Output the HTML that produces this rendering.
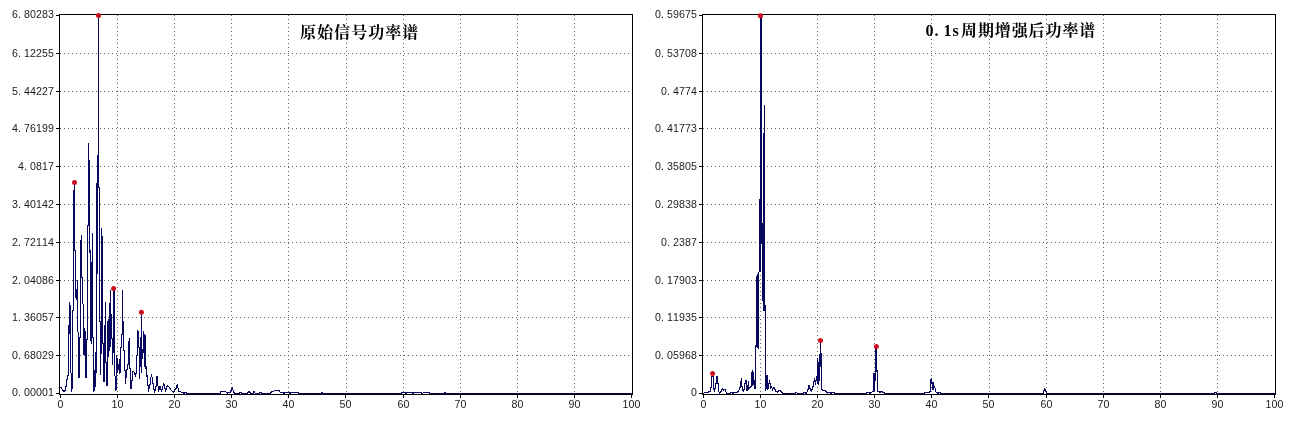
<!DOCTYPE html>
<html lang="zh"><head><meta charset="utf-8"><title>功率谱</title>
<style>
html,body{margin:0;padding:0;background:#fff;}
body{width:1297px;height:422px;overflow:hidden;}
svg{display:block;}
.lab{font-family:"Liberation Sans","Noto Sans CJK SC",sans-serif;font-size:10.6px;fill:#1c1c1c;}
.ttl{font-family:"Liberation Serif","Noto Serif CJK SC",serif;font-size:16px;font-weight:bold;fill:#000;letter-spacing:1.05px;}
.w{fill:#08085f;}
</style></head><body>
<svg width="1297" height="422" viewBox="0 0 1297 422" shape-rendering="crispEdges">
<rect x="0" y="0" width="1297" height="422" fill="#fff"/>
<line x1="117.5" y1="15" x2="117.5" y2="394" stroke="#626262" stroke-width="1" stroke-dasharray="1 3"/>
<line x1="174.5" y1="15" x2="174.5" y2="394" stroke="#626262" stroke-width="1" stroke-dasharray="1 3"/>
<line x1="231.5" y1="15" x2="231.5" y2="394" stroke="#626262" stroke-width="1" stroke-dasharray="1 3"/>
<line x1="288.5" y1="15" x2="288.5" y2="394" stroke="#626262" stroke-width="1" stroke-dasharray="1 3"/>
<line x1="346.5" y1="15" x2="346.5" y2="394" stroke="#626262" stroke-width="1" stroke-dasharray="1 3"/>
<line x1="403.5" y1="15" x2="403.5" y2="394" stroke="#626262" stroke-width="1" stroke-dasharray="1 3"/>
<line x1="460.5" y1="15" x2="460.5" y2="394" stroke="#626262" stroke-width="1" stroke-dasharray="1 3"/>
<line x1="517.5" y1="15" x2="517.5" y2="394" stroke="#626262" stroke-width="1" stroke-dasharray="1 3"/>
<line x1="574.5" y1="15" x2="574.5" y2="394" stroke="#626262" stroke-width="1" stroke-dasharray="1 3"/>
<line x1="60" y1="53.5" x2="632" y2="53.5" stroke="#626262" stroke-width="1" stroke-dasharray="1 3"/>
<line x1="60" y1="91.5" x2="632" y2="91.5" stroke="#626262" stroke-width="1" stroke-dasharray="1 3"/>
<line x1="60" y1="128.5" x2="632" y2="128.5" stroke="#626262" stroke-width="1" stroke-dasharray="1 3"/>
<line x1="60" y1="166.5" x2="632" y2="166.5" stroke="#626262" stroke-width="1" stroke-dasharray="1 3"/>
<line x1="60" y1="204.5" x2="632" y2="204.5" stroke="#626262" stroke-width="1" stroke-dasharray="1 3"/>
<line x1="60" y1="242.5" x2="632" y2="242.5" stroke="#626262" stroke-width="1" stroke-dasharray="1 3"/>
<line x1="60" y1="280.5" x2="632" y2="280.5" stroke="#626262" stroke-width="1" stroke-dasharray="1 3"/>
<line x1="60" y1="317.5" x2="632" y2="317.5" stroke="#626262" stroke-width="1" stroke-dasharray="1 3"/>
<line x1="60" y1="355.5" x2="632" y2="355.5" stroke="#626262" stroke-width="1" stroke-dasharray="1 3"/>
<path class="w" d="M60 387h1v1h-1zM61 387h1v2h-1zM62 389h1v2h-1zM63 390h1v2h-1zM64 390h1v2h-1zM65 386h1v5h-1zM66 379h1v8h-1zM67 375h1v5h-1zM68 325h1v51h-1zM69 302h1v32h-1zM70 305h1v68h-1zM71 373h1v19h-1zM72 310h1v79h-1zM73 190h1v121h-1zM74 182h1v69h-1zM75 250h1v48h-1zM76 289h1v11h-1zM77 280h1v52h-1zM78 332h1v46h-1zM79 337h1v41h-1zM80 240h1v98h-1zM81 235h1v43h-1zM82 277h1v27h-1zM83 304h1v51h-1zM84 328h1v27h-1zM85 331h1v47h-1zM86 339h1v39h-1zM87 225h1v115h-1zM88 143h1v83h-1zM89 160h1v93h-1zM90 250h1v91h-1zM91 262h1v82h-1zM92 233h1v105h-1zM93 337h1v55h-1zM94 370h1v21h-1zM95 352h1v35h-1zM96 183h1v190h-1zM97 155h1v119h-1zM98 15h1v173h-1zM99 187h1v135h-1zM100 321h1v54h-1zM101 228h1v126h-1zM102 236h1v108h-1zM103 343h1v39h-1zM104 325h1v57h-1zM105 302h1v61h-1zM106 362h1v24h-1zM107 321h1v65h-1zM108 319h1v38h-1zM109 303h1v48h-1zM110 290h1v57h-1zM111 314h1v25h-1zM112 338h1v27h-1zM113 288h1v65h-1zM114 289h1v87h-1zM115 376h1v15h-1zM116 355h1v35h-1zM117 358h1v15h-1zM118 364h1v6h-1zM119 359h1v15h-1zM120 347h1v26h-1zM121 334h1v14h-1zM122 290h1v45h-1zM123 321h1v30h-1zM124 350h1v21h-1zM125 370h1v14h-1zM126 369h1v9h-1zM127 364h1v6h-1zM128 341h1v24h-1zM129 338h1v31h-1zM130 368h1v21h-1zM131 380h1v9h-1zM132 371h1v10h-1zM133 371h1v1h-1zM134 372h1v3h-1zM135 373h1v4h-1zM136 355h1v19h-1zM137 330h1v26h-1zM138 331h1v17h-1zM139 347h1v32h-1zM140 337h1v30h-1zM141 312h1v61h-1zM142 349h1v10h-1zM143 331h1v22h-1zM144 334h1v33h-1zM145 335h1v34h-1zM146 366h1v11h-1zM147 375h1v11h-1zM148 385h1v7h-1zM149 384h1v5h-1zM150 377h1v8h-1zM151 374h1v3h-1zM152 377h1v7h-1zM153 383h1v7h-1zM154 389h1v4h-1zM155 386h1v5h-1zM156 376h1v11h-1zM157 376h1v10h-1zM158 386h1v6h-1zM159 386h1v4h-1zM160 386h1v4h-1zM161 389h1v3h-1zM162 386h1v4h-1zM163 383h1v3h-1zM164 384h1v5h-1zM165 388h1v4h-1zM166 386h1v4h-1zM167 385h1v2h-1zM168 386h1v1h-1zM169 387h1v2h-1zM170 388h1v2h-1zM171 390h1v1h-1zM172 391h1v1h-1zM173 391h1v2h-1zM174 389h1v3h-1zM175 388h1v2h-1zM176 385h1v4h-1zM177 384h1v4h-1zM178 388h1v4h-1zM179 391h1v1h-1zM180 391h1v1h-1zM181 392h1v1h-1zM182 392h1v1h-1zM183 392h1v2h-1zM184 392h1v2h-1zM185 392h1v1h-1zM186 392h1v2h-1zM187 393h1v1h-1zM188 393h1v1h-1zM189 393h1v1h-1zM190 393h1v1h-1zM191 393h1v1h-1zM192 393h1v1h-1zM193 393h1v1h-1zM194 393h1v1h-1zM195 393h1v1h-1zM196 393h1v1h-1zM197 393h1v1h-1zM198 393h1v1h-1zM199 393h1v1h-1zM200 393h1v1h-1zM201 393h1v1h-1zM202 393h1v1h-1zM203 393h1v1h-1zM204 393h1v1h-1zM205 393h1v1h-1zM206 393h1v1h-1zM207 393h1v1h-1zM208 393h1v1h-1zM209 393h1v1h-1zM210 393h1v1h-1zM211 393h1v1h-1zM212 393h1v1h-1zM213 393h1v1h-1zM214 393h1v1h-1zM215 393h1v1h-1zM216 393h1v1h-1zM217 393h1v1h-1zM218 393h1v1h-1zM219 393h1v1h-1zM220 391h1v3h-1zM221 391h1v1h-1zM222 391h1v1h-1zM223 391h1v1h-1zM224 391h1v1h-1zM225 391h1v1h-1zM226 392h1v1h-1zM227 392h1v2h-1zM228 392h1v1h-1zM229 392h1v1h-1zM230 390h1v3h-1zM231 388h1v3h-1zM232 387h1v3h-1zM233 390h1v3h-1zM234 392h1v2h-1zM235 393h1v1h-1zM236 393h1v1h-1zM237 393h1v1h-1zM238 393h1v1h-1zM239 392h1v2h-1zM240 392h1v1h-1zM241 392h1v2h-1zM242 393h1v1h-1zM243 393h1v1h-1zM244 393h1v1h-1zM245 393h1v1h-1zM246 393h1v1h-1zM247 392h1v2h-1zM248 391h1v2h-1zM249 391h1v2h-1zM250 392h1v2h-1zM251 393h1v1h-1zM252 393h1v1h-1zM253 391h1v3h-1zM254 391h1v2h-1zM255 393h1v1h-1zM256 393h1v1h-1zM257 393h1v1h-1zM258 393h1v1h-1zM259 392h1v2h-1zM260 392h1v1h-1zM261 392h1v2h-1zM262 393h1v1h-1zM263 393h1v1h-1zM264 393h1v1h-1zM265 393h1v1h-1zM266 393h1v1h-1zM267 393h1v1h-1zM268 393h1v1h-1zM269 393h1v1h-1zM270 392h1v2h-1zM271 391h1v2h-1zM272 391h1v1h-1zM273 391h1v1h-1zM274 390h1v1h-1zM275 390h1v1h-1zM276 390h1v1h-1zM277 390h1v1h-1zM278 390h1v1h-1zM279 390h1v2h-1zM280 392h1v1h-1zM281 392h1v1h-1zM282 392h1v1h-1zM283 392h1v2h-1zM284 392h1v2h-1zM285 392h1v1h-1zM286 392h1v1h-1zM287 392h1v1h-1zM288 392h1v1h-1zM289 392h1v2h-1zM290 392h1v2h-1zM291 392h1v1h-1zM292 392h1v1h-1zM293 392h1v1h-1zM294 392h1v1h-1zM295 392h1v1h-1zM296 392h1v1h-1zM297 392h1v1h-1zM298 392h1v2h-1zM299 393h1v1h-1zM300 393h1v1h-1zM301 393h1v1h-1zM302 393h1v1h-1zM303 393h1v1h-1zM304 393h1v1h-1zM305 393h1v1h-1zM306 393h1v1h-1zM307 393h1v1h-1zM308 393h1v1h-1zM309 393h1v1h-1zM310 393h1v1h-1zM311 393h1v1h-1zM312 393h1v1h-1zM313 393h1v1h-1zM314 393h1v1h-1zM315 393h1v1h-1zM316 393h1v1h-1zM317 393h1v1h-1zM318 393h1v1h-1zM319 393h1v1h-1zM320 393h1v1h-1zM321 392h1v2h-1zM322 392h1v2h-1zM323 393h1v1h-1zM324 393h1v1h-1zM325 393h1v1h-1zM326 393h1v1h-1zM327 393h1v1h-1zM328 393h1v1h-1zM329 393h1v1h-1zM330 393h1v1h-1zM331 393h1v1h-1zM332 393h1v1h-1zM333 393h1v1h-1zM334 393h1v1h-1zM335 393h1v1h-1zM336 393h1v1h-1zM337 393h1v1h-1zM338 393h1v1h-1zM339 393h1v1h-1zM340 393h1v1h-1zM341 393h1v1h-1zM342 393h1v1h-1zM343 393h1v1h-1zM344 393h1v1h-1zM345 393h1v1h-1zM346 393h1v1h-1zM347 393h1v1h-1zM348 393h1v1h-1zM349 393h1v1h-1zM350 393h1v1h-1zM351 393h1v1h-1zM352 393h1v1h-1zM353 393h1v1h-1zM354 393h1v1h-1zM355 393h1v1h-1zM356 393h1v1h-1zM357 393h1v1h-1zM358 393h1v1h-1zM359 393h1v1h-1zM360 393h1v1h-1zM361 393h1v1h-1zM362 393h1v1h-1zM363 393h1v1h-1zM364 393h1v1h-1zM365 393h1v1h-1zM366 393h1v1h-1zM367 393h1v1h-1zM368 393h1v1h-1zM369 393h1v1h-1zM370 393h1v1h-1zM371 393h1v1h-1zM372 393h1v1h-1zM373 393h1v1h-1zM374 393h1v1h-1zM375 393h1v1h-1zM376 393h1v1h-1zM377 393h1v1h-1zM378 393h1v1h-1zM379 393h1v1h-1zM380 393h1v1h-1zM381 393h1v1h-1zM382 393h1v1h-1zM383 393h1v1h-1zM384 393h1v1h-1zM385 393h1v1h-1zM386 393h1v1h-1zM387 393h1v1h-1zM388 393h1v1h-1zM389 393h1v1h-1zM390 393h1v1h-1zM391 393h1v1h-1zM392 393h1v1h-1zM393 393h1v1h-1zM394 393h1v1h-1zM395 393h1v1h-1zM396 393h1v1h-1zM397 393h1v1h-1zM398 393h1v1h-1zM399 393h1v1h-1zM400 393h1v1h-1zM401 392h1v2h-1zM402 392h1v1h-1zM403 392h1v1h-1zM404 392h1v1h-1zM405 392h1v2h-1zM406 392h1v2h-1zM407 392h1v1h-1zM408 392h1v1h-1zM409 392h1v1h-1zM410 392h1v1h-1zM411 392h1v1h-1zM412 392h1v2h-1zM413 392h1v2h-1zM414 392h1v1h-1zM415 392h1v1h-1zM416 392h1v1h-1zM417 392h1v1h-1zM418 392h1v1h-1zM419 392h1v1h-1zM420 392h1v1h-1zM421 392h1v2h-1zM422 393h1v1h-1zM423 392h1v1h-1zM424 392h1v1h-1zM425 392h1v1h-1zM426 392h1v1h-1zM427 392h1v1h-1zM428 392h1v1h-1zM429 392h1v2h-1zM430 393h1v1h-1zM431 393h1v1h-1zM432 393h1v1h-1zM433 393h1v1h-1zM434 393h1v1h-1zM435 393h1v1h-1zM436 393h1v1h-1zM437 393h1v1h-1zM438 393h1v1h-1zM439 393h1v1h-1zM440 393h1v1h-1zM441 393h1v1h-1zM442 393h1v1h-1zM443 393h1v1h-1zM444 392h1v2h-1zM445 392h1v2h-1zM446 393h1v1h-1zM447 393h1v1h-1zM448 393h1v1h-1zM449 393h1v1h-1zM450 393h1v1h-1zM451 393h1v1h-1zM452 393h1v1h-1zM453 393h1v1h-1zM454 393h1v1h-1zM455 393h1v1h-1zM456 393h1v1h-1zM457 393h1v1h-1zM458 393h1v1h-1zM459 393h1v1h-1zM460 393h1v1h-1zM461 393h1v1h-1zM462 393h1v1h-1zM463 393h1v1h-1zM464 393h1v1h-1zM465 393h1v1h-1zM466 393h1v1h-1zM467 393h1v1h-1zM468 393h1v1h-1zM469 393h1v1h-1zM470 393h1v1h-1zM471 393h1v1h-1zM472 393h1v1h-1zM473 393h1v1h-1zM474 393h1v1h-1zM475 393h1v1h-1zM476 393h1v1h-1zM477 393h1v1h-1zM478 393h1v1h-1zM479 393h1v1h-1zM480 393h1v1h-1zM481 393h1v1h-1zM482 393h1v1h-1zM483 393h1v1h-1zM484 393h1v1h-1zM485 393h1v1h-1zM486 393h1v1h-1zM487 393h1v1h-1zM488 393h1v1h-1zM489 393h1v1h-1zM490 393h1v1h-1zM491 393h1v1h-1zM492 393h1v1h-1zM493 393h1v1h-1zM494 393h1v1h-1zM495 393h1v1h-1zM496 393h1v1h-1zM497 393h1v1h-1zM498 393h1v1h-1zM499 393h1v1h-1zM500 393h1v1h-1zM501 393h1v1h-1zM502 393h1v1h-1zM503 393h1v1h-1zM504 393h1v1h-1zM505 393h1v1h-1zM506 393h1v1h-1zM507 393h1v1h-1zM508 393h1v1h-1zM509 393h1v1h-1zM510 393h1v1h-1zM511 393h1v1h-1zM512 393h1v1h-1zM513 393h1v1h-1zM514 393h1v1h-1zM515 393h1v1h-1zM516 393h1v1h-1zM517 393h1v1h-1zM518 393h1v1h-1zM519 393h1v1h-1zM520 393h1v1h-1zM521 393h1v1h-1zM522 393h1v1h-1zM523 393h1v1h-1zM524 393h1v1h-1zM525 393h1v1h-1zM526 393h1v1h-1zM527 393h1v1h-1zM528 393h1v1h-1zM529 393h1v1h-1zM530 393h1v1h-1zM531 393h1v1h-1zM532 393h1v1h-1zM533 393h1v1h-1zM534 393h1v1h-1zM535 393h1v1h-1zM536 393h1v1h-1zM537 393h1v1h-1zM538 393h1v1h-1zM539 393h1v1h-1zM540 393h1v1h-1zM541 393h1v1h-1zM542 393h1v1h-1zM543 393h1v1h-1zM544 393h1v1h-1zM545 393h1v1h-1zM546 393h1v1h-1zM547 393h1v1h-1zM548 393h1v1h-1zM549 393h1v1h-1zM550 393h1v1h-1zM551 393h1v1h-1zM552 393h1v1h-1zM553 393h1v1h-1zM554 393h1v1h-1zM555 393h1v1h-1zM556 393h1v1h-1zM557 393h1v1h-1zM558 393h1v1h-1zM559 393h1v1h-1zM560 393h1v1h-1zM561 393h1v1h-1zM562 393h1v1h-1zM563 393h1v1h-1zM564 393h1v1h-1zM565 393h1v1h-1zM566 393h1v1h-1zM567 393h1v1h-1zM568 393h1v1h-1zM569 393h1v1h-1zM570 393h1v1h-1zM571 393h1v1h-1zM572 393h1v1h-1zM573 393h1v1h-1zM574 393h1v1h-1zM575 393h1v1h-1zM576 393h1v1h-1zM577 393h1v1h-1zM578 393h1v1h-1zM579 393h1v1h-1zM580 393h1v1h-1zM581 393h1v1h-1zM582 393h1v1h-1zM583 393h1v1h-1zM584 393h1v1h-1zM585 393h1v1h-1zM586 393h1v1h-1zM587 393h1v1h-1zM588 393h1v1h-1zM589 393h1v1h-1zM590 393h1v1h-1zM591 393h1v1h-1zM592 393h1v1h-1zM593 393h1v1h-1zM594 393h1v1h-1zM595 393h1v1h-1zM596 393h1v1h-1zM597 393h1v1h-1zM598 393h1v1h-1zM599 393h1v1h-1zM600 393h1v1h-1zM601 393h1v1h-1zM602 393h1v1h-1zM603 393h1v1h-1zM604 393h1v1h-1zM605 393h1v1h-1zM606 393h1v1h-1zM607 393h1v1h-1zM608 393h1v1h-1zM609 393h1v1h-1zM610 393h1v1h-1zM611 393h1v1h-1zM612 393h1v1h-1zM613 393h1v1h-1zM614 393h1v1h-1zM615 393h1v1h-1zM616 393h1v1h-1zM617 393h1v1h-1zM618 393h1v1h-1zM619 393h1v1h-1zM620 393h1v1h-1zM621 393h1v1h-1zM622 393h1v1h-1zM623 393h1v1h-1zM624 393h1v1h-1zM625 393h1v1h-1zM626 393h1v1h-1zM627 393h1v1h-1zM628 393h1v1h-1zM629 393h1v1h-1zM630 393h1v1h-1zM631 393h1v1h-1z"/>
<rect x="59.5" y="14.5" width="573" height="380" fill="none" stroke="#000" stroke-width="1"/>
<rect x="56" y="15" width="3" height="1" fill="#000"/>
<text class="lab" x="12 18 24 30 36 42 48" y="18.0">6.80283</text>
<rect x="56" y="53" width="3" height="1" fill="#000"/>
<text class="lab" x="12 18 24 30 36 42 48" y="56.9">6.12255</text>
<rect x="56" y="91" width="3" height="1" fill="#000"/>
<text class="lab" x="12 18 24 30 36 42 48" y="94.9">5.44227</text>
<rect x="56" y="128" width="3" height="1" fill="#000"/>
<text class="lab" x="12 18 24 30 36 42 48" y="131.9">4.76199</text>
<rect x="56" y="166" width="3" height="1" fill="#000"/>
<text class="lab" x="18 24 30 36 42 48" y="169.9">4.0817</text>
<rect x="56" y="204" width="3" height="1" fill="#000"/>
<text class="lab" x="12 18 24 30 36 42 48" y="207.9">3.40142</text>
<rect x="56" y="242" width="3" height="1" fill="#000"/>
<text class="lab" x="12 18 24 30 36 42 48" y="245.9">2.72114</text>
<rect x="56" y="280" width="3" height="1" fill="#000"/>
<text class="lab" x="12 18 24 30 36 42 48" y="283.9">2.04086</text>
<rect x="56" y="317" width="3" height="1" fill="#000"/>
<text class="lab" x="12 18 24 30 36 42 48" y="320.9">1.36057</text>
<rect x="56" y="355" width="3" height="1" fill="#000"/>
<text class="lab" x="12 18 24 30 36 42 48" y="358.9">0.68029</text>
<rect x="56" y="393" width="3" height="1" fill="#000"/>
<text class="lab" x="12 18 24 30 36 42 48" y="396.0">0.00001</text>
<rect x="60" y="395" width="1" height="3" fill="#000"/>
<text class="lab" x="57.6" y="408">0</text>
<rect x="117" y="395" width="1" height="3" fill="#000"/>
<text class="lab" x="111.6 117.6" y="408">10</text>
<rect x="174" y="395" width="1" height="3" fill="#000"/>
<text class="lab" x="168.6 174.6" y="408">20</text>
<rect x="231" y="395" width="1" height="3" fill="#000"/>
<text class="lab" x="225.6 231.6" y="408">30</text>
<rect x="288" y="395" width="1" height="3" fill="#000"/>
<text class="lab" x="282.6 288.6" y="408">40</text>
<rect x="345" y="395" width="1" height="3" fill="#000"/>
<text class="lab" x="339.6 345.6" y="408">50</text>
<rect x="403" y="395" width="1" height="3" fill="#000"/>
<text class="lab" x="397.6 403.6" y="408">60</text>
<rect x="460" y="395" width="1" height="3" fill="#000"/>
<text class="lab" x="454.6 460.6" y="408">70</text>
<rect x="517" y="395" width="1" height="3" fill="#000"/>
<text class="lab" x="511.6 517.6" y="408">80</text>
<rect x="574" y="395" width="1" height="3" fill="#000"/>
<text class="lab" x="568.6 574.6" y="408">90</text>
<rect x="631" y="395" width="1" height="3" fill="#000"/>
<text class="lab" x="622.6 628.6 634.6" y="408">100</text>
<circle cx="74.5" cy="182.5" r="2.5" fill="#cc1020" shape-rendering="geometricPrecision"/>
<circle cx="98.5" cy="15.5" r="2.5" fill="#cc1020" shape-rendering="geometricPrecision"/>
<circle cx="113.6" cy="288.4" r="2.5" fill="#cc1020" shape-rendering="geometricPrecision"/>
<circle cx="141.4" cy="312.3" r="2.5" fill="#cc1020" shape-rendering="geometricPrecision"/>
<text class="ttl" x="300" y="38">原始信号功率谱</text>
<line x1="760.5" y1="15" x2="760.5" y2="394" stroke="#626262" stroke-width="1" stroke-dasharray="1 3"/>
<line x1="817.5" y1="15" x2="817.5" y2="394" stroke="#626262" stroke-width="1" stroke-dasharray="1 3"/>
<line x1="874.5" y1="15" x2="874.5" y2="394" stroke="#626262" stroke-width="1" stroke-dasharray="1 3"/>
<line x1="931.5" y1="15" x2="931.5" y2="394" stroke="#626262" stroke-width="1" stroke-dasharray="1 3"/>
<line x1="989.5" y1="15" x2="989.5" y2="394" stroke="#626262" stroke-width="1" stroke-dasharray="1 3"/>
<line x1="1046.5" y1="15" x2="1046.5" y2="394" stroke="#626262" stroke-width="1" stroke-dasharray="1 3"/>
<line x1="1103.5" y1="15" x2="1103.5" y2="394" stroke="#626262" stroke-width="1" stroke-dasharray="1 3"/>
<line x1="1160.5" y1="15" x2="1160.5" y2="394" stroke="#626262" stroke-width="1" stroke-dasharray="1 3"/>
<line x1="1217.5" y1="15" x2="1217.5" y2="394" stroke="#626262" stroke-width="1" stroke-dasharray="1 3"/>
<line x1="703" y1="53.5" x2="1275" y2="53.5" stroke="#626262" stroke-width="1" stroke-dasharray="1 3"/>
<line x1="703" y1="91.5" x2="1275" y2="91.5" stroke="#626262" stroke-width="1" stroke-dasharray="1 3"/>
<line x1="703" y1="128.5" x2="1275" y2="128.5" stroke="#626262" stroke-width="1" stroke-dasharray="1 3"/>
<line x1="703" y1="166.5" x2="1275" y2="166.5" stroke="#626262" stroke-width="1" stroke-dasharray="1 3"/>
<line x1="703" y1="204.5" x2="1275" y2="204.5" stroke="#626262" stroke-width="1" stroke-dasharray="1 3"/>
<line x1="703" y1="242.5" x2="1275" y2="242.5" stroke="#626262" stroke-width="1" stroke-dasharray="1 3"/>
<line x1="703" y1="280.5" x2="1275" y2="280.5" stroke="#626262" stroke-width="1" stroke-dasharray="1 3"/>
<line x1="703" y1="317.5" x2="1275" y2="317.5" stroke="#626262" stroke-width="1" stroke-dasharray="1 3"/>
<line x1="703" y1="355.5" x2="1275" y2="355.5" stroke="#626262" stroke-width="1" stroke-dasharray="1 3"/>
<path class="w" d="M703 393h1v1h-1zM704 392h1v1h-1zM705 392h1v1h-1zM706 392h1v1h-1zM707 392h1v1h-1zM708 391h1v2h-1zM709 391h1v1h-1zM710 387h1v5h-1zM711 376h1v12h-1zM712 376h1v1h-1zM713 376h1v14h-1zM714 388h1v4h-1zM715 383h1v6h-1zM716 376h1v8h-1zM717 376h1v8h-1zM718 383h1v9h-1zM719 392h1v2h-1zM720 391h1v2h-1zM721 389h1v3h-1zM722 388h1v2h-1zM723 389h1v2h-1zM724 389h1v1h-1zM725 389h1v3h-1zM726 392h1v2h-1zM727 393h1v1h-1zM728 393h1v1h-1zM729 393h1v1h-1zM730 392h1v2h-1zM731 392h1v1h-1zM732 392h1v2h-1zM733 392h1v2h-1zM734 392h1v1h-1zM735 392h1v1h-1zM736 392h1v1h-1zM737 391h1v2h-1zM738 390h1v2h-1zM739 387h1v3h-1zM740 381h1v7h-1zM741 378h1v9h-1zM742 386h1v5h-1zM743 389h1v3h-1zM744 383h1v7h-1zM745 380h1v4h-1zM746 380h1v11h-1zM747 385h1v6h-1zM748 381h1v9h-1zM749 387h1v2h-1zM750 386h1v2h-1zM751 372h1v15h-1zM752 370h1v16h-1zM753 372h1v13h-1zM754 380h1v9h-1zM755 345h1v44h-1zM756 276h1v71h-1zM757 274h1v74h-1zM758 272h1v77h-1zM759 199h1v73h-1zM760 15h1v257h-1zM761 15h1v229h-1zM762 223h1v78h-1zM763 133h1v178h-1zM764 105h1v206h-1zM765 305h1v86h-1zM766 375h1v14h-1zM767 375h1v15h-1zM768 383h1v6h-1zM769 380h1v4h-1zM770 383h1v6h-1zM771 386h1v2h-1zM772 388h1v3h-1zM773 387h1v2h-1zM774 387h1v3h-1zM775 389h1v3h-1zM776 391h1v1h-1zM777 391h1v2h-1zM778 390h1v2h-1zM779 390h1v1h-1zM780 390h1v2h-1zM781 391h1v2h-1zM782 392h1v2h-1zM783 393h1v1h-1zM784 393h1v1h-1zM785 393h1v1h-1zM786 393h1v1h-1zM787 393h1v1h-1zM788 393h1v1h-1zM789 393h1v1h-1zM790 393h1v1h-1zM791 393h1v1h-1zM792 393h1v1h-1zM793 393h1v1h-1zM794 393h1v1h-1zM795 392h1v2h-1zM796 392h1v1h-1zM797 393h1v1h-1zM798 393h1v1h-1zM799 393h1v1h-1zM800 393h1v1h-1zM801 393h1v1h-1zM802 393h1v1h-1zM803 392h1v2h-1zM804 392h1v1h-1zM805 392h1v2h-1zM806 392h1v2h-1zM807 389h1v3h-1zM808 385h1v5h-1zM809 385h1v4h-1zM810 388h1v3h-1zM811 389h1v3h-1zM812 386h1v4h-1zM813 381h1v6h-1zM814 378h1v4h-1zM815 380h1v5h-1zM816 376h1v5h-1zM817 358h1v26h-1zM818 362h1v23h-1zM819 354h1v27h-1zM820 341h1v26h-1zM821 353h1v37h-1zM822 389h1v2h-1zM823 390h1v1h-1zM824 390h1v1h-1zM825 390h1v2h-1zM826 391h1v2h-1zM827 392h1v2h-1zM828 392h1v1h-1zM829 392h1v1h-1zM830 392h1v2h-1zM831 392h1v2h-1zM832 392h1v1h-1zM833 392h1v1h-1zM834 392h1v2h-1zM835 393h1v1h-1zM836 393h1v1h-1zM837 393h1v1h-1zM838 393h1v1h-1zM839 393h1v1h-1zM840 393h1v1h-1zM841 393h1v1h-1zM842 393h1v1h-1zM843 393h1v1h-1zM844 393h1v1h-1zM845 393h1v1h-1zM846 393h1v1h-1zM847 393h1v1h-1zM848 393h1v1h-1zM849 393h1v1h-1zM850 393h1v1h-1zM851 393h1v1h-1zM852 393h1v1h-1zM853 393h1v1h-1zM854 393h1v1h-1zM855 393h1v1h-1zM856 393h1v1h-1zM857 393h1v1h-1zM858 393h1v1h-1zM859 393h1v1h-1zM860 393h1v1h-1zM861 393h1v1h-1zM862 393h1v1h-1zM863 393h1v1h-1zM864 393h1v1h-1zM865 393h1v1h-1zM866 392h1v2h-1zM867 392h1v1h-1zM868 392h1v1h-1zM869 392h1v2h-1zM870 392h1v2h-1zM871 392h1v1h-1zM872 391h1v1h-1zM873 373h1v19h-1zM874 373h1v18h-1zM875 347h1v34h-1zM876 347h1v25h-1zM877 370h1v22h-1zM878 391h1v1h-1zM879 391h1v2h-1zM880 391h1v2h-1zM881 391h1v1h-1zM882 391h1v2h-1zM883 392h1v1h-1zM884 392h1v2h-1zM885 393h1v1h-1zM886 393h1v1h-1zM887 393h1v1h-1zM888 393h1v1h-1zM889 393h1v1h-1zM890 393h1v1h-1zM891 393h1v1h-1zM892 393h1v1h-1zM893 393h1v1h-1zM894 393h1v1h-1zM895 393h1v1h-1zM896 393h1v1h-1zM897 393h1v1h-1zM898 393h1v1h-1zM899 393h1v1h-1zM900 393h1v1h-1zM901 393h1v1h-1zM902 393h1v1h-1zM903 393h1v1h-1zM904 393h1v1h-1zM905 393h1v1h-1zM906 393h1v1h-1zM907 393h1v1h-1zM908 393h1v1h-1zM909 393h1v1h-1zM910 393h1v1h-1zM911 393h1v1h-1zM912 393h1v1h-1zM913 393h1v1h-1zM914 393h1v1h-1zM915 393h1v1h-1zM916 393h1v1h-1zM917 393h1v1h-1zM918 393h1v1h-1zM919 393h1v1h-1zM920 393h1v1h-1zM921 393h1v1h-1zM922 393h1v1h-1zM923 393h1v1h-1zM924 392h1v2h-1zM925 392h1v1h-1zM926 392h1v1h-1zM927 392h1v1h-1zM928 392h1v1h-1zM929 391h1v2h-1zM930 379h1v13h-1zM931 378h1v6h-1zM932 382h1v8h-1zM933 382h1v8h-1zM934 386h1v2h-1zM935 388h1v4h-1zM936 392h1v1h-1zM937 392h1v2h-1zM938 392h1v2h-1zM939 392h1v1h-1zM940 392h1v2h-1zM941 393h1v1h-1zM942 393h1v1h-1zM943 393h1v1h-1zM944 393h1v1h-1zM945 393h1v1h-1zM946 393h1v1h-1zM947 393h1v1h-1zM948 393h1v1h-1zM949 393h1v1h-1zM950 393h1v1h-1zM951 393h1v1h-1zM952 393h1v1h-1zM953 393h1v1h-1zM954 393h1v1h-1zM955 393h1v1h-1zM956 393h1v1h-1zM957 393h1v1h-1zM958 393h1v1h-1zM959 393h1v1h-1zM960 393h1v1h-1zM961 393h1v1h-1zM962 393h1v1h-1zM963 393h1v1h-1zM964 393h1v1h-1zM965 393h1v1h-1zM966 393h1v1h-1zM967 393h1v1h-1zM968 393h1v1h-1zM969 393h1v1h-1zM970 393h1v1h-1zM971 393h1v1h-1zM972 393h1v1h-1zM973 393h1v1h-1zM974 393h1v1h-1zM975 393h1v1h-1zM976 393h1v1h-1zM977 393h1v1h-1zM978 393h1v1h-1zM979 393h1v1h-1zM980 393h1v1h-1zM981 393h1v1h-1zM982 393h1v1h-1zM983 393h1v1h-1zM984 393h1v1h-1zM985 393h1v1h-1zM986 393h1v1h-1zM987 393h1v1h-1zM988 393h1v1h-1zM989 393h1v1h-1zM990 393h1v1h-1zM991 393h1v1h-1zM992 393h1v1h-1zM993 393h1v1h-1zM994 393h1v1h-1zM995 393h1v1h-1zM996 393h1v1h-1zM997 393h1v1h-1zM998 393h1v1h-1zM999 393h1v1h-1zM1000 393h1v1h-1zM1001 393h1v1h-1zM1002 393h1v1h-1zM1003 393h1v1h-1zM1004 393h1v1h-1zM1005 393h1v1h-1zM1006 393h1v1h-1zM1007 393h1v1h-1zM1008 393h1v1h-1zM1009 393h1v1h-1zM1010 393h1v1h-1zM1011 393h1v1h-1zM1012 393h1v1h-1zM1013 393h1v1h-1zM1014 393h1v1h-1zM1015 393h1v1h-1zM1016 393h1v1h-1zM1017 393h1v1h-1zM1018 393h1v1h-1zM1019 393h1v1h-1zM1020 393h1v1h-1zM1021 393h1v1h-1zM1022 393h1v1h-1zM1023 393h1v1h-1zM1024 393h1v1h-1zM1025 393h1v1h-1zM1026 393h1v1h-1zM1027 393h1v1h-1zM1028 393h1v1h-1zM1029 393h1v1h-1zM1030 393h1v1h-1zM1031 393h1v1h-1zM1032 393h1v1h-1zM1033 393h1v1h-1zM1034 393h1v1h-1zM1035 393h1v1h-1zM1036 393h1v1h-1zM1037 393h1v1h-1zM1038 393h1v1h-1zM1039 393h1v1h-1zM1040 393h1v1h-1zM1041 393h1v1h-1zM1042 393h1v1h-1zM1043 390h1v4h-1zM1044 388h1v3h-1zM1045 389h1v3h-1zM1046 391h1v3h-1zM1047 393h1v1h-1zM1048 393h1v1h-1zM1049 393h1v1h-1zM1050 393h1v1h-1zM1051 393h1v1h-1zM1052 393h1v1h-1zM1053 393h1v1h-1zM1054 393h1v1h-1zM1055 393h1v1h-1zM1056 393h1v1h-1zM1057 393h1v1h-1zM1058 393h1v1h-1zM1059 393h1v1h-1zM1060 393h1v1h-1zM1061 393h1v1h-1zM1062 393h1v1h-1zM1063 393h1v1h-1zM1064 393h1v1h-1zM1065 393h1v1h-1zM1066 393h1v1h-1zM1067 393h1v1h-1zM1068 393h1v1h-1zM1069 393h1v1h-1zM1070 393h1v1h-1zM1071 393h1v1h-1zM1072 393h1v1h-1zM1073 393h1v1h-1zM1074 393h1v1h-1zM1075 393h1v1h-1zM1076 393h1v1h-1zM1077 393h1v1h-1zM1078 393h1v1h-1zM1079 393h1v1h-1zM1080 393h1v1h-1zM1081 393h1v1h-1zM1082 393h1v1h-1zM1083 393h1v1h-1zM1084 393h1v1h-1zM1085 393h1v1h-1zM1086 393h1v1h-1zM1087 393h1v1h-1zM1088 393h1v1h-1zM1089 393h1v1h-1zM1090 393h1v1h-1zM1091 393h1v1h-1zM1092 393h1v1h-1zM1093 393h1v1h-1zM1094 393h1v1h-1zM1095 393h1v1h-1zM1096 393h1v1h-1zM1097 393h1v1h-1zM1098 393h1v1h-1zM1099 393h1v1h-1zM1100 393h1v1h-1zM1101 393h1v1h-1zM1102 393h1v1h-1zM1103 393h1v1h-1zM1104 393h1v1h-1zM1105 393h1v1h-1zM1106 393h1v1h-1zM1107 393h1v1h-1zM1108 393h1v1h-1zM1109 393h1v1h-1zM1110 393h1v1h-1zM1111 393h1v1h-1zM1112 393h1v1h-1zM1113 393h1v1h-1zM1114 393h1v1h-1zM1115 393h1v1h-1zM1116 393h1v1h-1zM1117 393h1v1h-1zM1118 393h1v1h-1zM1119 393h1v1h-1zM1120 393h1v1h-1zM1121 393h1v1h-1zM1122 393h1v1h-1zM1123 393h1v1h-1zM1124 393h1v1h-1zM1125 393h1v1h-1zM1126 393h1v1h-1zM1127 393h1v1h-1zM1128 393h1v1h-1zM1129 393h1v1h-1zM1130 393h1v1h-1zM1131 393h1v1h-1zM1132 393h1v1h-1zM1133 393h1v1h-1zM1134 393h1v1h-1zM1135 393h1v1h-1zM1136 393h1v1h-1zM1137 393h1v1h-1zM1138 393h1v1h-1zM1139 393h1v1h-1zM1140 393h1v1h-1zM1141 393h1v1h-1zM1142 393h1v1h-1zM1143 393h1v1h-1zM1144 393h1v1h-1zM1145 393h1v1h-1zM1146 393h1v1h-1zM1147 393h1v1h-1zM1148 393h1v1h-1zM1149 393h1v1h-1zM1150 393h1v1h-1zM1151 393h1v1h-1zM1152 393h1v1h-1zM1153 393h1v1h-1zM1154 393h1v1h-1zM1155 393h1v1h-1zM1156 393h1v1h-1zM1157 393h1v1h-1zM1158 393h1v1h-1zM1159 393h1v1h-1zM1160 393h1v1h-1zM1161 393h1v1h-1zM1162 393h1v1h-1zM1163 393h1v1h-1zM1164 393h1v1h-1zM1165 393h1v1h-1zM1166 393h1v1h-1zM1167 393h1v1h-1zM1168 393h1v1h-1zM1169 393h1v1h-1zM1170 393h1v1h-1zM1171 393h1v1h-1zM1172 393h1v1h-1zM1173 393h1v1h-1zM1174 393h1v1h-1zM1175 393h1v1h-1zM1176 393h1v1h-1zM1177 393h1v1h-1zM1178 393h1v1h-1zM1179 393h1v1h-1zM1180 393h1v1h-1zM1181 393h1v1h-1zM1182 393h1v1h-1zM1183 393h1v1h-1zM1184 393h1v1h-1zM1185 393h1v1h-1zM1186 393h1v1h-1zM1187 393h1v1h-1zM1188 393h1v1h-1zM1189 393h1v1h-1zM1190 393h1v1h-1zM1191 393h1v1h-1zM1192 393h1v1h-1zM1193 393h1v1h-1zM1194 393h1v1h-1zM1195 393h1v1h-1zM1196 393h1v1h-1zM1197 393h1v1h-1zM1198 393h1v1h-1zM1199 393h1v1h-1zM1200 393h1v1h-1zM1201 393h1v1h-1zM1202 393h1v1h-1zM1203 393h1v1h-1zM1204 393h1v1h-1zM1205 393h1v1h-1zM1206 393h1v1h-1zM1207 393h1v1h-1zM1208 393h1v1h-1zM1209 393h1v1h-1zM1210 393h1v1h-1zM1211 393h1v1h-1zM1212 393h1v1h-1zM1213 393h1v1h-1zM1214 392h1v2h-1zM1215 392h1v1h-1zM1216 392h1v2h-1zM1217 393h1v1h-1zM1218 393h1v1h-1zM1219 393h1v1h-1zM1220 393h1v1h-1zM1221 393h1v1h-1zM1222 393h1v1h-1zM1223 393h1v1h-1zM1224 393h1v1h-1zM1225 393h1v1h-1zM1226 393h1v1h-1zM1227 393h1v1h-1zM1228 393h1v1h-1zM1229 393h1v1h-1zM1230 393h1v1h-1zM1231 393h1v1h-1zM1232 393h1v1h-1zM1233 393h1v1h-1zM1234 393h1v1h-1zM1235 393h1v1h-1zM1236 393h1v1h-1zM1237 393h1v1h-1zM1238 393h1v1h-1zM1239 393h1v1h-1zM1240 393h1v1h-1zM1241 393h1v1h-1zM1242 393h1v1h-1zM1243 393h1v1h-1zM1244 393h1v1h-1zM1245 393h1v1h-1zM1246 393h1v1h-1zM1247 393h1v1h-1zM1248 393h1v1h-1zM1249 393h1v1h-1zM1250 393h1v1h-1zM1251 393h1v1h-1zM1252 393h1v1h-1zM1253 393h1v1h-1zM1254 393h1v1h-1zM1255 393h1v1h-1zM1256 393h1v1h-1zM1257 393h1v1h-1zM1258 393h1v1h-1zM1259 393h1v1h-1zM1260 393h1v1h-1zM1261 393h1v1h-1zM1262 393h1v1h-1zM1263 393h1v1h-1zM1264 393h1v1h-1zM1265 393h1v1h-1zM1266 393h1v1h-1zM1267 393h1v1h-1zM1268 393h1v1h-1zM1269 393h1v1h-1zM1270 393h1v1h-1zM1271 393h1v1h-1zM1272 393h1v1h-1zM1273 393h1v1h-1zM1274 393h1v1h-1z"/>
<rect x="702.5" y="14.5" width="573" height="380" fill="none" stroke="#000" stroke-width="1"/>
<rect x="699" y="15" width="3" height="1" fill="#000"/>
<text class="lab" x="655 661 667 673 679 685 691" y="18.0">0.59675</text>
<rect x="699" y="53" width="3" height="1" fill="#000"/>
<text class="lab" x="655 661 667 673 679 685 691" y="56.9">0.53708</text>
<rect x="699" y="91" width="3" height="1" fill="#000"/>
<text class="lab" x="661 667 673 679 685 691" y="94.9">0.4774</text>
<rect x="699" y="128" width="3" height="1" fill="#000"/>
<text class="lab" x="655 661 667 673 679 685 691" y="131.9">0.41773</text>
<rect x="699" y="166" width="3" height="1" fill="#000"/>
<text class="lab" x="655 661 667 673 679 685 691" y="169.9">0.35805</text>
<rect x="699" y="204" width="3" height="1" fill="#000"/>
<text class="lab" x="655 661 667 673 679 685 691" y="207.9">0.29838</text>
<rect x="699" y="242" width="3" height="1" fill="#000"/>
<text class="lab" x="661 667 673 679 685 691" y="245.9">0.2387</text>
<rect x="699" y="280" width="3" height="1" fill="#000"/>
<text class="lab" x="655 661 667 673 679 685 691" y="283.9">0.17903</text>
<rect x="699" y="317" width="3" height="1" fill="#000"/>
<text class="lab" x="655 661 667 673 679 685 691" y="320.9">0.11935</text>
<rect x="699" y="355" width="3" height="1" fill="#000"/>
<text class="lab" x="655 661 667 673 679 685 691" y="358.9">0.05968</text>
<rect x="699" y="393" width="3" height="1" fill="#000"/>
<text class="lab" x="691" y="396.0">0</text>
<rect x="703" y="395" width="1" height="3" fill="#000"/>
<text class="lab" x="700.6" y="408">0</text>
<rect x="760" y="395" width="1" height="3" fill="#000"/>
<text class="lab" x="754.6 760.6" y="408">10</text>
<rect x="817" y="395" width="1" height="3" fill="#000"/>
<text class="lab" x="811.6 817.6" y="408">20</text>
<rect x="874" y="395" width="1" height="3" fill="#000"/>
<text class="lab" x="868.6 874.6" y="408">30</text>
<rect x="931" y="395" width="1" height="3" fill="#000"/>
<text class="lab" x="925.6 931.6" y="408">40</text>
<rect x="988" y="395" width="1" height="3" fill="#000"/>
<text class="lab" x="982.6 988.6" y="408">50</text>
<rect x="1046" y="395" width="1" height="3" fill="#000"/>
<text class="lab" x="1040.6 1046.6" y="408">60</text>
<rect x="1103" y="395" width="1" height="3" fill="#000"/>
<text class="lab" x="1097.6 1103.6" y="408">70</text>
<rect x="1160" y="395" width="1" height="3" fill="#000"/>
<text class="lab" x="1154.6 1160.6" y="408">80</text>
<rect x="1217" y="395" width="1" height="3" fill="#000"/>
<text class="lab" x="1211.6 1217.6" y="408">90</text>
<rect x="1274" y="395" width="1" height="3" fill="#000"/>
<text class="lab" x="1265.6 1271.6 1277.6" y="408">100</text>
<circle cx="760.4" cy="15.7" r="2.5" fill="#cc1020" shape-rendering="geometricPrecision"/>
<circle cx="712.6" cy="373.6" r="2.5" fill="#cc1020" shape-rendering="geometricPrecision"/>
<circle cx="820.5" cy="340.6" r="2.5" fill="#cc1020" shape-rendering="geometricPrecision"/>
<circle cx="876.4" cy="346.5" r="2.5" fill="#cc1020" shape-rendering="geometricPrecision"/>
<text class="ttl" y="36"><tspan x="925.5 934.5 943.5 952.5">0.1s</tspan><tspan x="961" style="letter-spacing:0.9px">周期增强后功率谱</tspan></text>
</svg>
</body></html>
